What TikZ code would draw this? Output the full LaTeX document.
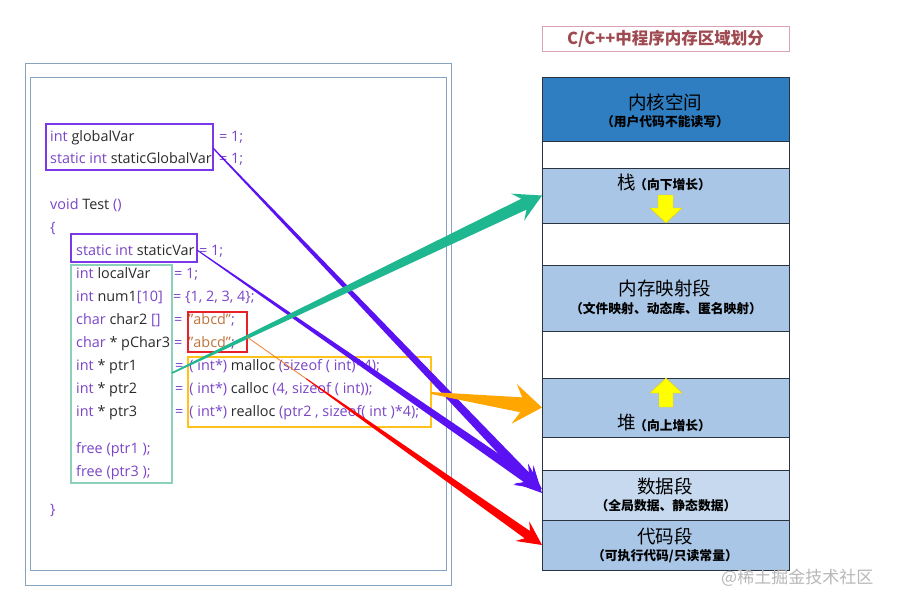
\documentclass[tikz,border=0pt]{standalone}
\usepackage{fontspec}
\setmainfont{Open Sans}
\newfontfamily\cjk{Noto Sans CJK SC}
\usetikzlibrary{calc}
\definecolor{kwc}{HTML}{7A45C8}
\definecolor{idc}{HTML}{2B2B2B}
\definecolor{strc}{HTML}{C0743C}
\definecolor{framec}{HTML}{86A4C0}
\definecolor{purpa}{HTML}{5A12F2}
\definecolor{pboxc}{HTML}{7B38E6}
\definecolor{tealb}{HTML}{8CD2B8}
\definecolor{teala}{HTML}{1FB78F}
\definecolor{oranga}{HTML}{FFA600}
\definecolor{orangb}{HTML}{FFC21A}
\definecolor{orangl}{HTML}{ED7D31}
\definecolor{reda}{HTML}{FF0000}
\definecolor{redb}{HTML}{E8202A}
\definecolor{kernc}{HTML}{2E7EC1}
\definecolor{segc}{HTML}{A9C6E6}
\definecolor{datac}{HTML}{C6D9EE}
\definecolor{linec}{HTML}{2A3340}
\definecolor{titc}{HTML}{9E4A50}
\definecolor{titb}{HTML}{D9A3B5}
\definecolor{yel}{HTML}{FFFF00}
\definecolor{yelb}{HTML}{E6C800}
\newcommand\idt[1]{\textcolor{idc}{#1}}
\newcommand\strt[1]{\textcolor{strc}{#1}}
% tapered arrow: start, end, colour, half width at start, half width at shaft end, head half width, head length, shaft-end distance
\newcommand\tarrow[8]{%
  \coordinate (tajn) at ($(#2)!#8!(#1)$);
  \coordinate (tabb) at ($(#2)!#7!(#1)$);
  \fill[#3] ($(#1)!#4!90:(#2)$) -- ($(tajn)!#5!-90:(#1)$) -- ($(tabb)!#6!-90:(#1)$) -- (#2)
    -- ($(tabb)!#6!90:(#1)$) -- ($(tajn)!#5!90:(#1)$) -- ($(#1)!#4!-90:(#2)$) -- cycle;
}
\begin{document}
\begin{tikzpicture}[x=1pt,y=-1pt,
  code/.style={anchor=base west, inner sep=0pt, font=\fontsize{14.4}{16}\selectfont, text=kwc},
  rect/.style={anchor=north west, inner sep=0pt, outer sep=0pt},
  seg/.style={rect, draw=linec, line width=0.8pt, minimum width=247pt},
  big/.style={font=\cjk\fontsize{18.5}{20}\selectfont, inner sep=0pt},
  small/.style={font=\cjk\bfseries\fontsize{12.8}{14}\selectfont, inner sep=0pt}]
\useasboundingbox (0,0) rectangle (899,606);
\fill[white] (0,0) rectangle (899,606);
% frames
\node[rect, draw=framec, line width=0.8pt, minimum width=426pt, minimum height=522pt] (outer) at (25,63) {};
\node[rect, draw=framec, line width=0.8pt, minimum width=416pt, minimum height=493pt] (inner) at (30,77) {};
% code
\node[code] (l1a) at (50,141) {int \idt{globalVar}};
\node[code] (l1b) at (219,141) {= 1;};
\node[code] (l2a) at (50,163) {static int \idt{staticGlobalVar}};
\node[code] (l2b) at (219,163) {= 1;};
\node[code] (l3) at (50,209) {void \idt{Test} ()};
\node[code] (l4) at (50,232) {\{};
\node[code] (l5a) at (76,255) {static int \idt{staticVar}};
\node[code] (l5b) at (199,255) {= 1;};
\node[code] (l6a) at (76,278) {int \idt{localVar}};
\node[code] (l6b) at (174,278) {= 1;};
\node[code] (l7a) at (76,301) {int \idt{num1}[10]};
\node[code] (l7b) at (173,301) {= \{1, 2, 3, 4\};};
\node[code] (l8a) at (76,324) {char \idt{char2} []};
\node[code] (l8b) at (174,324) {=\hspace{6pt}\strt{"abcd"};};
\node[code] (l9a) at (76,347) {char \idt{* pChar3}};
\node[code] (l9b) at (174,347) {=\hspace{6pt}\strt{"abcd"};};
\node[code] (l10a) at (76,370) {int \idt{* ptr1}};
\node[code] (l10b) at (175,370) {=\hspace{6pt}( int*) \idt{malloc} (sizeof ( int)*4);};
\node[code] (l11a) at (76,393) {int \idt{* ptr2}};
\node[code] (l11b) at (175,393) {=\hspace{6pt}( int*) \idt{calloc} (4, sizeof ( int));};
\node[code] (l12a) at (76,416) {int \idt{* ptr3}};
\node[code] (l12b) at (175,416) {=\hspace{6pt}( int*) \idt{realloc} (ptr2 , sizeof( int )*4);};
\node[code] (l13) at (76,453) {free (ptr1 );};
\node[code] (l14) at (76,476) {free (ptr3 );};
\node[code] (l15) at (50,514) {\}};
% highlight boxes
\node[rect, draw=pboxc, line width=1.4pt, minimum width=167pt, minimum height=46pt] (gvbox) at (46,124) {};
\node[rect, draw=pboxc, line width=1.4pt, minimum width=126pt, minimum height=28pt] (svbox) at (71,234) {};
\node[rect, draw=tealb, line width=1.2pt, minimum width=101pt, minimum height=218pt] (lvbox) at (71,265) {};
\node[rect, draw=redb, line width=1.2pt, minimum width=59pt, minimum height=40pt] (strbox) at (188,312) {};
\node[rect, draw=orangb, line width=1.2pt, minimum width=243pt, minimum height=70pt] (heapbox) at (188,357) {};
% memory column
\node[rect, draw=titb, line width=0.6pt, minimum width=247pt, minimum height=25pt] (title) at (542,26) {};
\node[font=\cjk\bfseries\fontsize{16.5}{18}\selectfont, text=titc, inner sep=0pt] (titlet) at (title.center) {C/C++中程序内存区域划分};
\node[seg, fill=kernc, minimum height=64pt] (kernel) at (542,77) {};
\node[seg, fill=white, minimum height=27pt] (gap1) at (542,141) {};
\node[seg, fill=segc, minimum height=55pt] (stack) at (542,168) {};
\node[seg, fill=white, minimum height=42pt] (gap2) at (542,223) {};
\node[seg, fill=segc, minimum height=66pt] (mmap) at (542,265) {};
\node[seg, fill=white, minimum height=47pt] (gap3) at (542,331) {};
\node[seg, fill=segc, minimum height=59pt] (heap) at (542,378) {};
\node[seg, fill=white, minimum height=33pt] (gap4) at (542,437) {};
\node[seg, fill=datac, minimum height=50pt] (data) at (542,470) {};
\node[seg, fill=segc, minimum height=50pt] (codeseg) at (542,520) {};
% labels
\node[big] (kt) at (665,102) {内核空间};
\node[small] (ks) at (665,122) {（用户代码不能读写）};
\node[big, anchor=west] (st) at (617,182) {栈};
\node[small, anchor=west] (ss) at (634,185) {（向下增长）};
\node[big] (mt) at (665,288) {内存映射段};
\node[small] (ms) at (666,309) {（文件映射、动态库、匿名映射）};
\node[big, anchor=west] (ht) at (617,423) {堆};
\node[small, anchor=west] (hs) at (634,426) {（向上增长）};
\node[big] (dt) at (665,486) {数据段};
\node[small] (ds) at (666,506) {（全局数据、静态数据）};
\node[big] (ct) at (665,536) {代码段};
\node[small] (cs) at (665,556) {（可执行代码/只读常量）};
% yellow arrows
\filldraw[fill=yel, draw=yelb, line width=0.4pt] (658,195) -- (673,195) -- (673,208) -- (682,208) -- (666,223) -- (650,208) -- (658,208) -- cycle;
\filldraw[fill=yel, draw=yelb, line width=0.4pt] (666,378) -- (682,393) -- (673,393) -- (673,407) -- (659,407) -- (659,393) -- (650,393) -- cycle;
% watermark
\node[font=\cjk\fontsize{17}{19}\selectfont, text=black!28, anchor=west, inner sep=0pt] (wm) at (721,578) {@稀土掘金技术社区};
% connector end points
\coordinate (gvS) at (gvbox.east |- 0,148);
\coordinate (svS) at (svbox.east |- 0,250);
\coordinate (lvS) at (lvbox.east |- 0,373);
\coordinate (hpS) at (heapbox.east |- 0,393);
\coordinate (stS) at (strbox.east |- 0,337);
\coordinate (redM) at ($(stS)!0.2!(codeseg.west)$);
\coordinate (gvE) at ($(data.west)+(0,-2)$);
\coordinate (svE) at ($(data.west)+(0,-6)$);
% arrows
\tarrow{gvS}{gvE}{purpa}{0.6pt}{4.8pt}{13pt}{26pt}{19pt}
\tarrow{svS}{svE}{purpa}{0.5pt}{4.6pt}{13pt}{26pt}{19pt}
\tarrow{lvS}{stack.west}{teala}{0.8pt}{6pt}{15pt}{27pt}{20pt}
\tarrow{hpS}{heap.west}{oranga}{1pt}{7.5pt}{20pt}{28pt}{21pt}
\draw[orangl, line width=0.8pt] (stS) -- (redM);
\tarrow{redM}{codeseg.west}{reda}{0.5pt}{4.5pt}{12pt}{24pt}{18pt}
\end{tikzpicture}
\end{document}
